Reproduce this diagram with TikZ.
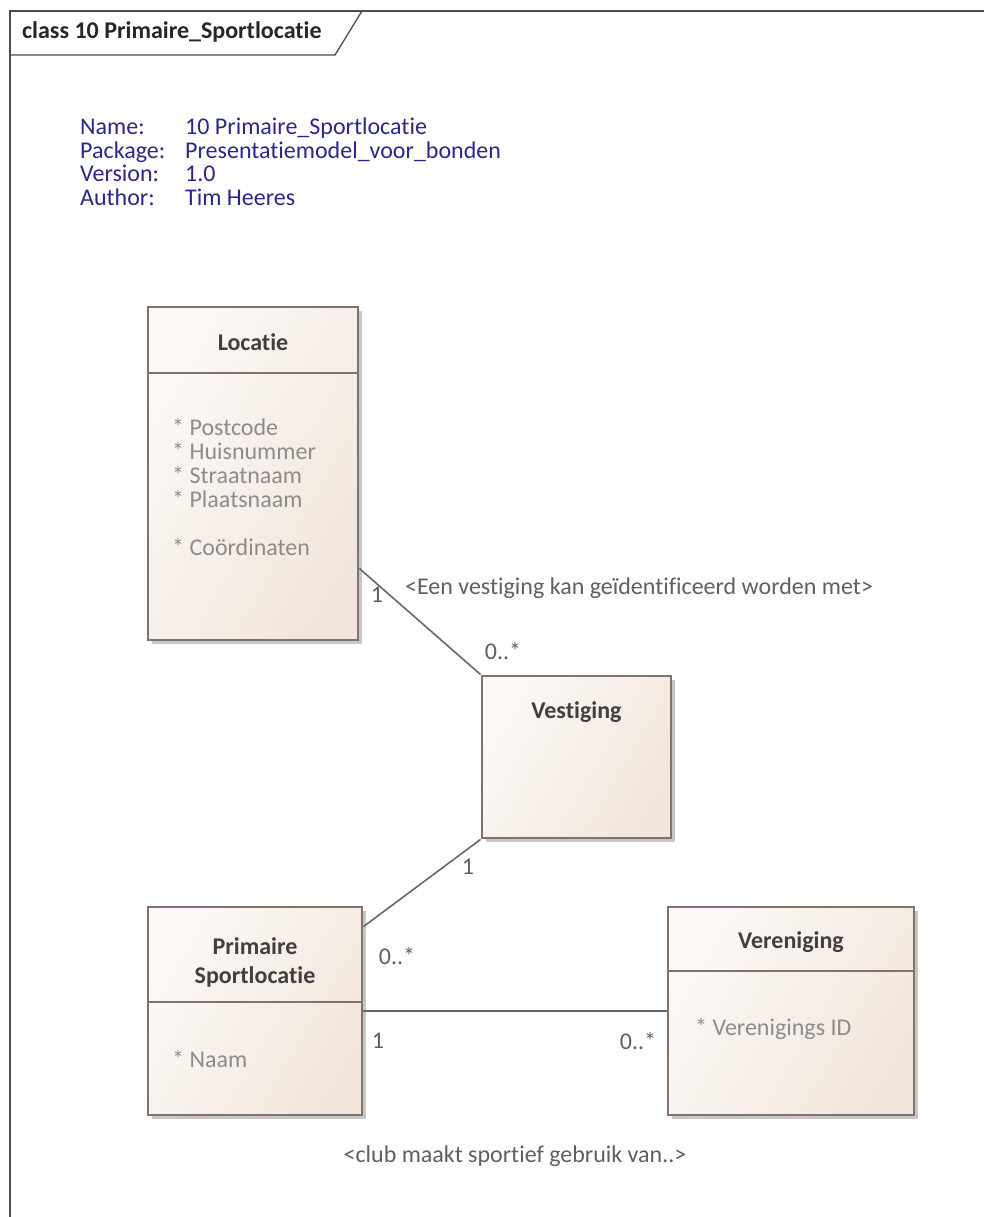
\documentclass[tikz,border=0pt]{standalone}
\usepackage{fontspec}
\setmainfont{Carlito}[Ligatures={NoCommon}]
\usetikzlibrary{shadows}
\definecolor{clsfill}{RGB}{242,230,220}
\definecolor{clsline}{RGB}{130,114,110}
\definecolor{ttlgray}{RGB}{64,64,64}
\definecolor{attgray}{RGB}{140,140,140}
\definecolor{lblgray}{RGB}{95,95,95}
\definecolor{infoblue}{RGB}{40,40,140}
\definecolor{asscol}{RGB}{95,105,118}

\begin{document}
\begin{tikzpicture}[x=1pt,y=-1pt]
  \tikzstyle{cls}=[draw=clsline,line width=2.8pt,shading=axis,left color=white!75!clsfill,right color=clsfill,shading angle=60,drop shadow={shadow xshift=4pt,shadow yshift=-4pt,fill=black!22,opacity=1},inner sep=0pt]
  \tikzstyle{sep}=[draw=clsline,line width=2.8pt]
  \tikzstyle{ttl}=[text=ttlgray,font=\fontsize{24}{29}\selectfont\bfseries,align=center,inner sep=0pt]
  \tikzstyle{att}=[text=attgray,font=\fontsize{24}{24}\selectfont,align=left,anchor=north west,inner sep=0pt]
  \tikzstyle{mult}=[text=lblgray,font=\fontsize{24}{24}\selectfont,inner sep=0pt]
  \tikzstyle{assoc}=[draw=asscol,line width=1.6pt]
  \tikzstyle{frm}=[draw=black!70,line width=1.3pt]
  \useasboundingbox (0,0) rectangle (984,1217);

  % Frame
  \draw[frm] (10,1230) -- (10,11) -- (1000,11);
  \draw[frm] (10,55) -- (335,55) -- (362,11);
  \node[text=black!85,font=\fontsize{24}{24}\selectfont\bfseries,anchor=west,inner sep=0pt] (hdr) at (22,32) {class 10 Primaire\_Sportlocatie};

  % Info
  \node[text=infoblue,font=\fontsize{24}{23.2}\selectfont,anchor=north west,inner sep=0pt] (info) at (80,118)
    {\begin{tabular}{@{}p{105pt}@{}l@{}}
      Name: & 10 Primaire\_Sportlocatie\\
      Package: & Presentatiemodel\_voor\_bonden\\
      Version: & 1.0\\
      Author: & Tim Heeres
    \end{tabular}};

  % Locatie
  \node[cls,minimum width=210pt,minimum height=333pt] (loc) at (253,473.5) {};
  \draw[sep] (loc.west |- 0,373) -- (loc.east |- 0,373);
  \node[ttl] (loct) at (253,342) {Locatie};
  \node[att] (loca) at (172,418) {* Postcode\\* Huisnummer\\* Straatnaam\\* Plaatsnaam\\[24pt]* Coördinaten};

  % Vestiging
  \node[cls,minimum width=189pt,minimum height=162pt] (vest) at (576.5,757) {};
  \node[ttl] (vestt) at (576.5,712) {Vestiging};

  % Primaire Sportlocatie
  \node[cls,minimum width=214pt,minimum height=208pt] (prim) at (255,1011) {};
  \draw[sep] (prim.west |- 0,1002) -- (prim.east |- 0,1002);
  \node[ttl,text depth=0pt] (primt) at (255,961) {Primaire\\Sportlocatie};
  \node[att] (prima) at (172,1050) {* Naam};

  % Vereniging
  \node[cls,minimum width=246pt,minimum height=208pt] (ver) at (791,1011) {};
  \draw[sep] (ver.west |- 0,971) -- (ver.east |- 0,971);
  \node[ttl] (vert) at (791,942) {Vereniging};
  \node[att] (vera) at (695,1018) {* Verenigings ID};

  % Associations
  \draw[assoc] ([yshift=-95pt]loc.east) -- (vest.north west);
  \node[mult] (m1) at (377,595) {1};
  \node[mult] (m2) at (503,651) {0..*};
  \node[mult,anchor=west] (r1) at (405,588) {<Een vestiging kan geïdentificeerd worden met>};

  \draw[assoc] (vest.south west) -- ([yshift=-21pt]prim.north east);
  \node[mult] (m3) at (468,867) {1};
  \node[mult] (m4) at (397,956) {0..*};

  \draw[assoc] (prim.east) -- (ver.west);
  \node[mult] (m5) at (378,1041) {1};
  \node[mult] (m6) at (638,1041) {0..*};
  \node[mult] (r2) at (515,1156) {<club maakt sportief gebruik van..>};
\end{tikzpicture}
\end{document}
